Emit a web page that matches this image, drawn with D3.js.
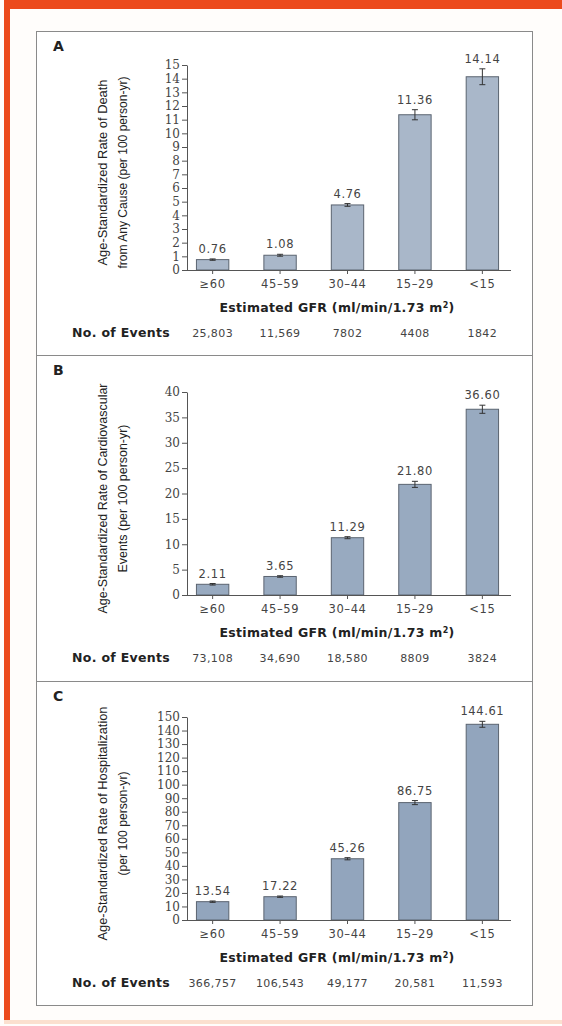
<!DOCTYPE html>
<html>
<head>
<meta charset="utf-8">
<script src="https://cdn.jsdelivr.net/npm/d3@7"></script>
<style>
  html, body { margin: 0; padding: 0; background: #ffffff; }
  svg { display: block; }
</style>
</head>
<body>
<svg id="chart" width="562" height="1026"></svg>
<script>
// eGFR categories shared by the three panels
const categories = ["≥60", "45–59", "30–44", "15–29", "<15"];

// Panel A: death from any cause
const deathRates = [0.76, 1.08, 4.76, 11.36, 14.14];
const deathErrors = [0.05, 0.07, 0.1, 0.37, 0.58];
const deathEvents = ["25,803", "11,569", "7802", "4408", "1842"];
const deathTicks = [0, 1, 2, 3, 4, 5, 6, 7, 8, 9, 10, 11, 12, 13, 14, 15];

// Panel B: cardiovascular events
const cvRates = [2.11, 3.65, 11.29, 21.80, 36.60];
const cvErrors = [0.15, 0.15, 0.2, 0.6, 0.8];
const cvEvents = ["73,108", "34,690", "18,580", "8809", "3824"];
const cvTicks = [0, 5, 10, 15, 20, 25, 30, 35, 40];

// Panel C: hospitalization
const hospRates = [13.54, 17.22, 45.26, 86.75, 144.61];
const hospErrors = [0.5, 0.5, 0.8, 1.5, 2.2];
const hospEvents = ["366,757", "106,543", "49,177", "20,581", "11,593"];
const hospTicks = [0, 10, 20, 30, 40, 50, 60, 70, 80, 90, 100, 110, 120, 130, 140, 150];

const panels = [
  { letter: "A", rates: deathRates, errors: deathErrors, events: deathEvents, ticks: deathTicks,
    titles: ["Age-Standardized Rate of Death", "from Any Cause (per 100 person-yr)"],
    titleLens: [186, 192],
    box: [31, 355], yTop: 65, yZero: 270, fill: "#a9b7c9" },
  { letter: "B", rates: cvRates, errors: cvErrors, events: cvEvents, ticks: cvTicks,
    titles: ["Age-Standardized Rate of Cardiovascular", "Events (per 100 person-yr)"],
    titleLens: [230, 148],
    box: [355, 681], yTop: 392, yZero: 595, fill: "#98aac0" },
  { letter: "C", rates: hospRates, errors: hospErrors, events: hospEvents, ticks: hospTicks,
    titles: ["Age-Standardized Rate of Hospitalization", "(per 100 person-yr)"],
    titleLens: [234, 104],
    box: [681, 1005], yTop: 717, yZero: 920, fill: "#92a5bd" }
];

const svg = d3.select("#chart");
const W = 562, H = 1026;

// page background and journal frame
svg.append("rect").attr("width", W).attr("height", H).attr("fill", "#fffdfb");
svg.append("rect").attr("x", 4).attr("y", 0).attr("width", W - 4).attr("height", 9).attr("fill", "#ec4a1c");
svg.append("rect").attr("x", 4).attr("y", 0).attr("width", 6).attr("height", 1022).attr("fill", "#ec4a1c");
svg.append("rect").attr("x", 4).attr("y", 1020).attr("width", W - 4).attr("height", 4).attr("fill", "#fbe0cf");

const boxLeft = 36, boxRight = 532;
const axisX = 187;

// outer box holding the three panels
svg.append("rect")
  .attr("x", boxLeft + 0.5).attr("y", panels[0].box[0] + 0.5)
  .attr("width", boxRight - boxLeft).attr("height", panels[2].box[1] - panels[0].box[0])
  .attr("fill", "#ffffff").attr("stroke", "#8a8a8a").attr("stroke-width", 1);

const x = d3.scaleBand()
  .domain(categories)
  .range([axisX, 508])
  .paddingInner(0.52)
  .paddingOuter(0.14);

const numFont = "'DejaVu Sans', sans-serif";
const tickFont = "'DejaVu Serif', serif";
const boldFont = "'DejaVu Sans', sans-serif";

panels.forEach((p, i) => {
  const g = svg.append("g");

  if (i > 0) {
    g.append("line")
      .attr("x1", boxLeft).attr("x2", boxRight)
      .attr("y1", p.box[0] + 0.5).attr("y2", p.box[0] + 0.5)
      .attr("stroke", "#8a8a8a").attr("stroke-width", 1);
  }

  // panel letter
  g.append("text")
    .attr("x", 53).attr("y", p.box[0] + 20)
    .attr("font-family", boldFont).attr("font-weight", 700).attr("font-size", 14)
    .attr("fill", "#222").text(p.letter);

  const y = d3.scaleLinear()
    .domain([0, p.ticks[p.ticks.length - 1]])
    .range([p.yZero, p.yTop]);

  // y axis
  const yAxis = g.append("g")
    .attr("transform", `translate(${axisX},0)`)
    .call(d3.axisLeft(y).tickValues(p.ticks).tickSize(5).tickSizeOuter(0).tickPadding(2));
  yAxis.select(".domain").attr("stroke", "#555");
  yAxis.selectAll(".tick line").attr("stroke", "#555");
  yAxis.selectAll(".tick text")
    .attr("font-family", tickFont).attr("font-size", 12).attr("fill", "#444");

  // bars
  g.selectAll("rect.bar")
    .data(p.rates)
    .join("rect")
    .attr("class", "bar")
    .attr("x", (d, j) => x(categories[j]))
    .attr("width", x.bandwidth())
    .attr("y", d => y(d))
    .attr("height", d => y(0) - y(d))
    .attr("fill", p.fill)
    .attr("stroke", "#5b6470").attr("stroke-width", 1);

  // error bars
  const cx = j => x(categories[j]) + x.bandwidth() / 2;
  const err = g.selectAll("g.err")
    .data(p.rates.map((d, j) => ({ v: d, e: p.errors[j], j })))
    .join("g").attr("class", "err");
  err.append("line")
    .attr("x1", d => cx(d.j)).attr("x2", d => cx(d.j))
    .attr("y1", d => y(d.v - d.e)).attr("y2", d => y(d.v + d.e))
    .attr("stroke", "#333").attr("stroke-width", 1);
  [1, -1].forEach(s => {
    err.append("line")
      .attr("x1", d => cx(d.j) - 3).attr("x2", d => cx(d.j) + 3)
      .attr("y1", d => y(d.v + s * d.e)).attr("y2", d => y(d.v + s * d.e))
      .attr("stroke", "#333").attr("stroke-width", 1);
  });

  // value labels
  g.selectAll("text.val")
    .data(p.rates)
    .join("text")
    .attr("class", "val")
    .attr("x", (d, j) => cx(j))
    .attr("y", (d, j) => y(d + p.errors[j]) - 6)
    .attr("text-anchor", "middle")
    .attr("font-family", numFont).attr("font-size", 11.5)
    .attr("letter-spacing", 0.6)
    .attr("fill", "#444")
    .text(d => d.toFixed(2));

  // x axis
  const xAxis = g.append("g")
    .attr("transform", `translate(0,${p.yZero})`)
    .call(d3.axisBottom(x).tickSize(4).tickSizeOuter(0).tickPadding(6));
  xAxis.select(".domain").attr("stroke", "#555").attr("d", `M${axisX},0.5H511`);
  xAxis.selectAll(".tick line").attr("stroke", "#555");
  xAxis.selectAll(".tick text")
    .attr("font-family", numFont).attr("font-size", 11.5)
    .attr("letter-spacing", 0.6).attr("fill", "#444");

  // x axis title
  const gfr = g.append("text")
    .attr("x", 337).attr("y", p.yZero + 42)
    .attr("text-anchor", "middle")
    .attr("font-family", boldFont).attr("font-weight", 700).attr("font-size", 12.5)
    .attr("letter-spacing", 0.3)
    .attr("fill", "#222");
  gfr.append("tspan").text("Estimated GFR (ml/min/1.73 m");
  gfr.append("tspan").attr("font-size", 8).attr("dy", -4).text("2");
  gfr.append("tspan").attr("dy", 4).text(")");

  // number of events row
  const evY = p.yZero + 67;
  g.append("text")
    .attr("x", 170).attr("y", evY)
    .attr("text-anchor", "end")
    .attr("font-family", boldFont).attr("font-weight", 700).attr("font-size", 12.5)
    .attr("letter-spacing", 0.3)
    .attr("fill", "#222").text("No. of Events");
  g.selectAll("text.ev")
    .data(p.events)
    .join("text")
    .attr("class", "ev")
    .attr("x", (d, j) => cx(j))
    .attr("y", evY)
    .attr("text-anchor", "middle")
    .attr("font-family", numFont).attr("font-size", 11)
    .attr("letter-spacing", 0.4)
    .attr("fill", "#444")
    .text(d => d);

  // y axis title, two rotated lines
  const midY = (p.yTop + p.yZero) / 2 + 5;
  p.titles.forEach((t, k) => {
    g.append("text")
      .attr("transform", `translate(${107 + k * 20},${midY}) rotate(-90)`)
      .attr("text-anchor", "middle")
      .attr("font-family", "'Liberation Sans', Arial, sans-serif")
      .attr("font-size", 13.5)
      .attr("textLength", p.titleLens[k])
      .attr("lengthAdjust", "spacingAndGlyphs")
      .attr("fill", "#222")
      .text(t);
  });
});
</script>
</body>
</html>
